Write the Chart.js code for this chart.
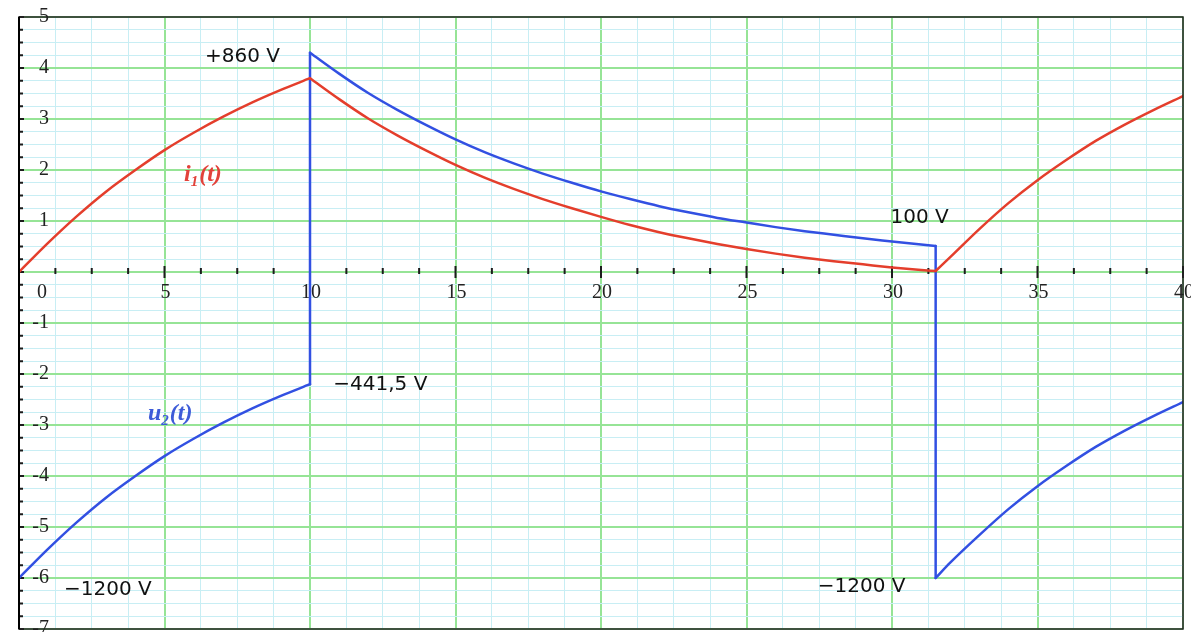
<!DOCTYPE html>
<html>
<head>
<meta charset="utf-8">
<title>i1(t) / u2(t)</title>
<script src="https://cdn.jsdelivr.net/npm/chart.js@4.4.0/dist/chart.umd.min.js"></script>
<style>
  html, body { margin: 0; padding: 0; background: #fff; }
  canvas { display: block; }
</style>
</head>
<body>
<canvas id="waveChart" width="1191" height="632"></canvas>
<script>
// time values for the three phases (switching at t = 10 and t = 31.5)
const tPhase1 = [0, 1, 2, 3, 4, 5, 6, 7, 8, 9, 10];
const tPhase2 = [10, 11, 12, 13, 14, 15, 16, 17, 18, 19, 20, 21, 22, 23, 24, 25, 26, 27, 28, 29, 30, 31, 31.5];
const tPhase3 = [31.5, 32, 33, 34, 35, 36, 37, 38, 39, 40];

// i1(t)
const iPhase1 = [0, 0.57, 1.10, 1.58, 2.00, 2.39, 2.73, 3.04, 3.32, 3.57, 3.80];
const iPhase2 = [3.80, 3.39, 3.01, 2.68, 2.38, 2.10, 1.85, 1.63, 1.43, 1.25, 1.08, 0.92, 0.78, 0.66, 0.55, 0.45, 0.36, 0.28, 0.21, 0.15, 0.09, 0.04, 0.02];
const iPhase3 = [0.02, 0.29, 0.84, 1.35, 1.80, 2.20, 2.57, 2.89, 3.18, 3.45];

// u2(t) (jumps between phases)
const uPhase1 = [-6.00, -5.43, -4.90, -4.42, -4.00, -3.61, -3.27, -2.96, -2.68, -2.43, -2.20];
const uPhase2 = [4.30, 3.89, 3.51, 3.18, 2.88, 2.60, 2.35, 2.13, 1.93, 1.75, 1.58, 1.43, 1.29, 1.17, 1.06, 0.97, 0.88, 0.80, 0.73, 0.66, 0.60, 0.54, 0.51];
const uPhase3 = [-6.00, -5.70, -5.16, -4.65, -4.20, -3.80, -3.43, -3.11, -2.82, -2.55];

// tick labels
const xTickValues = [0, 5, 10, 15, 20, 25, 30, 35, 40];
const xTickLabels = ['0', '5', '10', '15', '20', '25', '30', '35', '40'];
const yTickValues = [5, 4, 3, 2, 1, -1, -2, -3, -4, -5, -6, -7];
const yTickLabels = ['5', '4', '3', '2', '1', '-1', '-2', '-3', '-4', '-5', '-6', '-7'];

// voltage notes, placed in data units
const notes = [
    { text: '+860 V', t: 8.97, v: 4.12, align: 'right' },
    { text: '\u2212441,5 V', t: 10.8, v: -2.31, align: 'left' },
    { text: '100 V', t: 29.95, v: 0.955, align: 'left' },
    { text: '\u22121200 V', t: 1.55, v: -6.33, align: 'left' },
    { text: '\u22121200 V', t: 27.45, v: -6.27, align: 'left' }
];

const RED = 'rgb(228, 62, 44)';
const BLUE = 'rgb(50, 80, 226)';
const GREEN = 'rgb(150, 228, 150)';
const CYAN = 'rgb(200, 238, 244)';

const curveNames = [
    { main: 'i', sub: '1', rest: '(t)', color: 'rgb(226, 66, 58)', t: 5.67, v: 1.78 },
    { main: 'u', sub: '2', rest: '(t)', color: 'rgb(62, 92, 216)', t: 4.43, v: -2.90 }
];

const toPoints = (ts, vs) => ts.map((t, k) => ({ x: t, y: vs[k] }));

function curve(points, color) {
    return {
        data: points,
        borderColor: color,
        borderWidth: 2.5,
        borderCapStyle: 'round',
        borderJoinStyle: 'round',
        pointRadius: 0,
        cubicInterpolationMode: 'monotone',
        fill: false
    };
}

// vertical jumps of u2 at the switching instants
const jump1 = [{ x: tPhase1[tPhase1.length - 1], y: uPhase1[uPhase1.length - 1] }, { x: tPhase2[0], y: uPhase2[0] }];
const jump2 = [{ x: tPhase2[tPhase2.length - 1], y: uPhase2[uPhase2.length - 1] }, { x: tPhase3[0], y: uPhase3[0] }];

const axisDecor = {
    id: 'axisDecor',
    beforeDatasetsDraw(chart) {
        const { ctx, chartArea: area, scales: { x, y } } = chart;
        const y0 = y.getPixelForValue(0);
        ctx.save();
        ctx.fillStyle = '#1c1c1c';
        // small tick marks on the t axis
        x.ticks.forEach(tk => {
            const px = x.getPixelForValue(tk.value);
            if (tk.value % 5 === 0) ctx.fillRect(px - 1, y0 - 6, 2, 12);
            else ctx.fillRect(px - 1, y0 - 4, 2, 6);
        });
        // tick marks along the left edge
        y.ticks.forEach(tk => {
            const py = y.getPixelForValue(tk.value);
            ctx.fillRect(area.left, py - 1, tk.value % 1 === 0 ? 5 : 4, 2);
        });

        ctx.font = '20px "Liberation Serif", serif';
        ctx.fillStyle = '#222';
        ctx.textBaseline = 'middle';
        ctx.textAlign = 'center';
        xTickValues.forEach((v, k) => {
            let px = x.getPixelForValue(v) + 1;
            if (v === 0) px += 22; // keep the 0 clear of the left edge
            ctx.fillText(xTickLabels[k], px, y0 + 21);
        });
        ctx.textAlign = 'right';
        yTickValues.forEach((v, k) => {
            ctx.fillText(yTickLabels[k], area.left + 30, y.getPixelForValue(v));
        });
        ctx.restore();
    },
    afterDatasetsDraw(chart) {
        const { ctx, chartArea: area, scales: { x, y } } = chart;
        ctx.save();
        // frame
        ctx.strokeStyle = '#222';
        ctx.lineWidth = 1.5;
        ctx.strokeRect(area.left, area.top, area.right - area.left, area.bottom - area.top);
        ctx.fillStyle = '#000';
        ctx.fillRect(area.left - 1, area.top, 2, area.bottom - area.top);

        // voltage notes
        ctx.font = '20px "DejaVu Sans", sans-serif';
        ctx.fillStyle = '#111';
        ctx.textBaseline = 'alphabetic';
        notes.forEach(n => {
            ctx.textAlign = n.align;
            ctx.fillText(n.text, x.getPixelForValue(n.t), y.getPixelForValue(n.v));
        });

        // curve names with subscripts
        ctx.textAlign = 'left';
        curveNames.forEach(c => {
            let px = x.getPixelForValue(c.t);
            const py = y.getPixelForValue(c.v);
            ctx.fillStyle = c.color;
            ctx.font = 'italic bold 24px "Liberation Serif", serif';
            ctx.fillText(c.main, px, py);
            px += ctx.measureText(c.main).width;
            ctx.font = 'italic bold 15px "Liberation Serif", serif';
            ctx.fillText(c.sub, px, py + 5);
            px += ctx.measureText(c.sub).width + 1;
            ctx.font = 'italic bold 24px "Liberation Serif", serif';
            ctx.fillText(c.rest, px, py);
        });
        ctx.restore();
    }
};

const ctx = document.getElementById('waveChart').getContext('2d');

new Chart(ctx, {
    type: 'line',
    data: {
        datasets: [
            // i1 first so it is drawn on top of u2
            curve(toPoints(tPhase1, iPhase1), RED),
            curve(toPoints(tPhase2, iPhase2), RED),
            curve(toPoints(tPhase3, iPhase3), RED),
            curve(toPoints(tPhase1, uPhase1), BLUE),
            curve(jump1, BLUE),
            curve(toPoints(tPhase2, uPhase2), BLUE),
            curve(jump2, BLUE),
            curve(toPoints(tPhase3, uPhase3), BLUE)
        ]
    },
    options: {
        responsive: false,
        animation: false,
        layout: { padding: { left: 19, top: 17, right: 8, bottom: 3 } },
        plugins: {
            legend: { display: false },
            tooltip: { enabled: false }
        },
        scales: {
            x: {
                type: 'linear',
                min: 0,
                max: 40,
                ticks: { stepSize: 1.25, display: false },
                grid: {
                    drawTicks: false,
                    color: c => (c.tick && c.tick.value % 5 === 0 ? GREEN : CYAN),
                    lineWidth: c => (c.tick && c.tick.value % 5 === 0 ? 2 : 1)
                },
                border: { display: false }
            },
            y: {
                type: 'linear',
                min: -7,
                max: 5,
                ticks: { stepSize: 0.25, display: false },
                grid: {
                    drawTicks: false,
                    color: c => (c.tick && c.tick.value % 1 === 0 ? GREEN : CYAN),
                    lineWidth: c => (c.tick && c.tick.value % 1 === 0 ? 2 : 1)
                },
                border: { display: false }
            }
        }
    },
    plugins: [axisDecor]
});
</script>
</body>
</html>
